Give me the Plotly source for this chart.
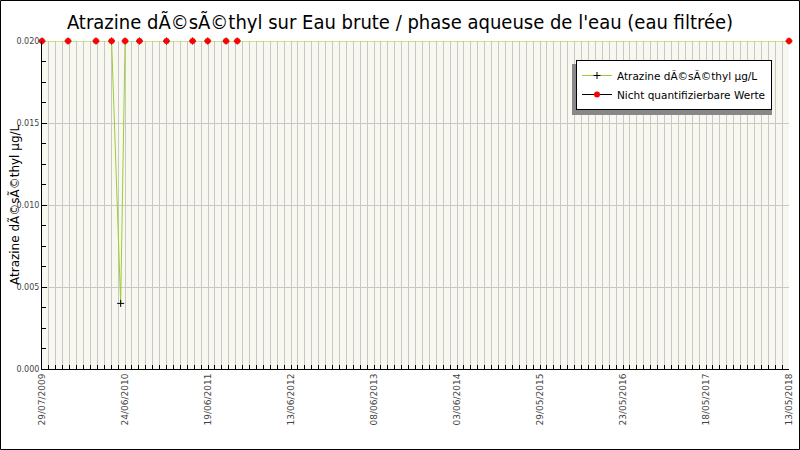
import plotly.graph_objects as go
import pandas as pd

# ---- data ----
sample_dates = ["2009-07-29", "2009-11-18", "2010-03-18", "2010-05-24", "2010-07-02",
                "2010-07-21", "2010-09-21", "2011-01-15", "2011-05-07", "2011-07-11",
                "2011-09-28", "2011-11-15", "2018-05-13"]
sample_values = [0.020, 0.020, 0.020, 0.020, 0.004,
                 0.020, 0.020, 0.020, 0.020, 0.020,
                 0.020, 0.020, 0.020]
nq_dates = ["2009-07-29", "2009-11-18", "2010-03-18", "2010-05-24",
            "2010-07-21", "2010-09-21", "2011-01-15", "2011-05-07", "2011-07-11",
            "2011-09-28", "2011-11-15", "2018-05-13"]
nq_values = [0.020] * 12
x_tick_labels = ["29/07/2009", "24/06/2010", "19/06/2011", "13/06/2012", "08/06/2013",
                 "03/06/2014", "29/05/2015", "23/05/2016", "18/05/2017", "13/05/2018"]
y_tick_values = [0.000, 0.005, 0.010, 0.015, 0.020]

title_text = "Atrazine dÃ©sÃ©thyl sur Eau brute / phase aqueuse de l'eau (eau filtrée)"
y_title = "Atrazine dÃ©sÃ©thyl µg/L"
series1_name = "Atrazine dÃ©sÃ©thyl µg/L"
series2_name = "Nicht quantifizierbare Werte"

# ---- layout helpers ----
W, H = 800, 450
L, R, T, B = 42, 789, 41, 369
pw, ph = R - L, B - T
def px_x(x): return (x - L) / pw
def px_y(y): return (B - y) / ph

start = pd.Timestamp(sample_dates[0])
end = pd.Timestamp(sample_dates[-1])
tick_pos = pd.date_range(start, end, periods=len(x_tick_labels))
minor_dtick = (end - start).total_seconds() * 1000 / ((len(x_tick_labels) - 1) * 12)

# gaps so that the marker-only series still shows a line in the legend
nq_x, nq_y = [], []
for d, v in zip(nq_dates, nq_values):
    nq_x += [d, None]
    nq_y += [v, None]

fig = go.Figure()
fig.add_trace(go.Scatter(
    x=sample_dates, y=sample_values, name=series1_name, mode="lines+markers",
    line=dict(color="#9acd32", width=1),
    marker=dict(symbol="cross-thin", size=5, color="black", line=dict(color="black", width=1)),
    cliponaxis=False))
fig.add_trace(go.Scatter(
    x=nq_x, y=nq_y, name=series2_name, mode="lines+markers", connectgaps=False,
    line=dict(color="black", width=1),
    marker=dict(symbol="circle", size=6, color="#ff0000"),
    cliponaxis=False))

xtickfont = dict(family="DejaVu Sans", size=9, color="#444444")
ytickfont = dict(family="DejaVu Sans", size=8, color="#444444")

fig.update_layout(
    width=W, height=H,
    margin=dict(l=L, r=W - R, t=T, b=H - B, autoexpand=False),
    paper_bgcolor="white", plot_bgcolor="#f8f8f0",
    title=dict(text=title_text, x=0.5, xanchor="center", y=1 - 22 / H, yanchor="middle",
               font=dict(family="DejaVu Sans Condensed, Liberation Sans Narrow, DejaVu Sans",
                         size=20, color="black")),
    showlegend=True,
    legend=dict(x=px_x(576), y=px_y(60), xanchor="left", yanchor="top",
                bgcolor="white", bordercolor="black", borderwidth=1,
                font=dict(family="DejaVu Sans", size=10.5, color="black"),
                itemwidth=30, tracegroupgap=0),
    xaxis=dict(type="date", range=[start, end], tickmode="array",
               tickvals=list(tick_pos), ticktext=x_tick_labels, tickangle=-90,
               tickfont=xtickfont, ticks="inside", ticklen=4, tickcolor="black",
               showgrid=True, gridcolor="#c8c8c8", gridwidth=1,
               showline=True, linecolor="black", linewidth=1, zeroline=False,
               minor=dict(tickmode="linear", tick0=start, dtick=minor_dtick,
                          ticks="inside", ticklen=4, tickcolor="black",
                          showgrid=True, gridcolor="#c8c8c8", gridwidth=1)),
    yaxis=dict(range=[0, 0.020], tickmode="array", tickvals=y_tick_values,
               tickformat=".3f", tickfont=ytickfont, ticks="inside", ticklen=5,
               tickcolor="black", showgrid=True, gridcolor="#c8c8c8", gridwidth=1,
               showline=True, linecolor="black", linewidth=1, zeroline=False,
               minor=dict(tickmode="linear", tick0=0, dtick=0.00125, ticks="inside",
                          ticklen=4, tickcolor="black", showgrid=False)),
    annotations=[dict(text=y_title, xref="paper", yref="paper", x=px_x(14), y=0.5,
                      textangle=-90, showarrow=False, xanchor="center", yanchor="middle",
                      font=dict(family="DejaVu Sans", size=12, color="black"))],
    shapes=[
        dict(type="rect", xref="paper", yref="paper", layer="above",
             x0=px_x(572), x1=px_x(772), y0=px_y(115), y1=px_y(64),
             fillcolor="#888888", line=dict(width=0)),
        dict(type="rect", xref="paper", yref="paper", layer="above",
             x0=px_x(0.5), x1=px_x(799.5), y0=px_y(449.5), y1=px_y(0.5),
             line=dict(color="black", width=1), fillcolor="rgba(0,0,0,0)"),
    ],
)

fig.write_html("out.html", config={"displayModeBar": False},
               post_script="document.body.style.margin='0px';")
